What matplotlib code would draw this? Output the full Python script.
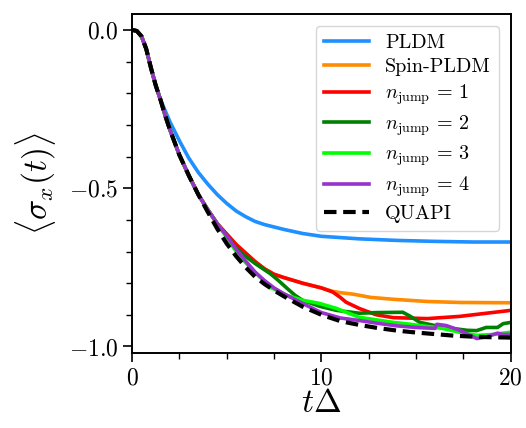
import matplotlib
matplotlib.use("Agg")
from matplotlib import pyplot as plt
from matplotlib.ticker import MultipleLocator

plt.rcParams['font.family'] = 'serif'
plt.rcParams['font.serif'] = ['cmr10']
plt.rcParams['mathtext.fontset'] = 'cm'
plt.rcParams['axes.unicode_minus'] = False

# early part shared by all curves (QUAPI-like)
t_early = [0, 0.25, 0.5, 0.75, 1.0, 1.25, 1.5]
y_early = [0, -0.003, -0.02, -0.06, -0.12, -0.175, -0.22]

t_quapi = t_early + [1.75, 2.0, 2.5, 3.0, 3.5, 4.0, 4.5, 5.0, 5.5, 6.0, 6.5, 7.0, 7.5, 8.0,
                     9.0, 10, 11, 12, 13, 14, 15, 16, 17, 18, 19, 20]
y_quapi = y_early + [-0.27, -0.315, -0.395, -0.46, -0.52, -0.575, -0.628, -0.675, -0.715, -0.75,
                     -0.78, -0.803, -0.823, -0.841, -0.874, -0.90, -0.92, -0.932, -0.942, -0.95,
                     -0.956, -0.961, -0.966, -0.969, -0.971, -0.972]

t_pldm = t_early + [1.75, 2.0, 2.5, 3.0, 3.5, 4.0, 4.5, 5.0, 5.5, 6.0, 6.5, 7.0, 8.0, 9.0,
                    10, 12, 14, 16, 18, 20]
y_pldm = y_early + [-0.255, -0.29, -0.35, -0.405, -0.45, -0.487, -0.52, -0.548, -0.572, -0.59,
                    -0.605, -0.615, -0.63, -0.643, -0.652, -0.66, -0.665, -0.668, -0.67, -0.67]

# jump curves share the start up to t=4.5
t_mid = t_early + [1.75, 2.0, 2.5, 3.0, 3.5, 4.0, 4.5]
y_mid = y_early + [-0.27, -0.315, -0.395, -0.46, -0.52, -0.568, -0.612]

t_n1 = t_mid + [5.0, 5.5, 6.0, 6.5, 7.0, 7.5, 8.0, 9.0, 10, 10.6, 11.0, 11.3, 12.0, 12.9, 13.8,
                15.6, 17.3, 20]
y_n1 = y_mid + [-0.645, -0.678, -0.705, -0.732, -0.755, -0.772, -0.782, -0.80, -0.815, -0.828,
                -0.845, -0.86, -0.88, -0.90, -0.909, -0.912, -0.905, -0.886]

t_spin = t_mid + [5.0, 5.5, 6.0, 6.5, 7.0, 7.5, 8.0, 9.0, 10, 10.6, 11.0, 11.7, 12.6, 13.8,
                  15.6, 17.3, 20]
y_spin = y_mid + [-0.645, -0.678, -0.705, -0.732, -0.755, -0.772, -0.782, -0.80, -0.815, -0.826,
                  -0.83, -0.835, -0.845, -0.851, -0.858, -0.861, -0.862]

t_n2 = t_mid + [5.0, 5.5, 6.0, 6.5, 7.0, 7.3, 7.7, 8.2, 8.6, 9.0, 9.9, 10.8, 12, 12.9, 14.3,
                14.7, 15.2, 16.4, 17.7, 18.2, 18.7, 19.3, 19.6, 20]
y_n2 = y_mid + [-0.65, -0.69, -0.715, -0.738, -0.758, -0.77, -0.79, -0.817, -0.838, -0.854,
                -0.873, -0.886, -0.895, -0.893, -0.892, -0.905, -0.924, -0.939, -0.949, -0.95,
                -0.94, -0.94, -0.928, -0.924]

t_n3 = t_mid + [5.0, 5.5, 6.0, 6.4, 7.3, 8.2, 9.0, 9.9, 10.8, 12, 13.8, 14.7, 15.6, 16.4,
                17.3, 18.2, 19.1, 20]
y_n3 = y_mid + [-0.655, -0.70, -0.735, -0.76, -0.813, -0.839, -0.854, -0.864, -0.88, -0.908,
                -0.924, -0.93, -0.937, -0.943, -0.955, -0.965, -0.962, -0.955]

t_n4 = t_mid + [5.0, 5.5, 6.0, 6.5, 7.0, 7.5, 8.0, 9.0, 10, 11, 12, 13, 14, 15, 16.0, 16.1,
                16.6, 17.3, 18.2, 18.7, 19.3, 19.6, 20]
y_n4 = y_mid + [-0.65, -0.693, -0.73, -0.765, -0.792, -0.815, -0.833, -0.864, -0.893, -0.91,
                -0.918, -0.927, -0.935, -0.94, -0.943, -0.93, -0.934, -0.949, -0.975, -0.97,
                -0.958, -0.962, -0.962]

fig = plt.figure(figsize=(5.26, 4.28), dpi=100)
ax = fig.add_axes([0.251, 0.175, 0.72, 0.792])

lw = 2.6
ax.plot(t_pldm, y_pldm, color='#1E90FF', lw=lw, label='PLDM')
ax.plot(t_spin, y_spin, color='#FF8C00', lw=lw, label='Spin-PLDM')
ax.plot(t_n1, y_n1, color='#FF0000', lw=lw, label=r'$n_{\mathrm{jump}}\,=\,1$')
ax.plot(t_n2, y_n2, color='#008000', lw=lw, label=r'$n_{\mathrm{jump}}\,=\,2$')
ax.plot(t_n3, y_n3, color='#00FF00', lw=lw, label=r'$n_{\mathrm{jump}}\,=\,3$')
ax.plot(t_n4, y_n4, color='#9932CC', lw=lw, label=r'$n_{\mathrm{jump}}\,=\,4$')
ax.plot(t_quapi, y_quapi, color='black', lw=3, ls=(0, (3, 1.6)), label='QUAPI')

ax.set_xlim(0, 20)
ax.set_ylim(-1.021, 0.05)
ax.set_xticks([0, 10, 20])
ax.set_xticklabels(['$0$', '$10$', '$20$'])
ax.set_yticks([0.0, -0.5, -1.0])
ax.set_yticklabels(['$0.0$', '$-0.5$', '$-1.0$'])
ax.xaxis.set_minor_locator(MultipleLocator(2.5))
ax.yaxis.set_minor_locator(MultipleLocator(0.1))
ax.tick_params(which='major', direction='out', length=6.5, width=1.2, labelsize=17)
ax.tick_params(which='minor', direction='out', length=4, width=1.0)
for s in ax.spines.values():
    s.set_linewidth(1.4)

ax.set_xlabel(r'$t\Delta$', fontsize=24, labelpad=0)
ax.set_ylabel(r'$\langle\sigma_x(t)\rangle$', fontsize=24, labelpad=8)

ax.legend(loc='upper right', fontsize=14.5, handlelength=2.2, labelspacing=0.3,
          borderaxespad=0.6, handletextpad=0.8, borderpad=0.4)

fig.savefig('out.png', dpi=100)
